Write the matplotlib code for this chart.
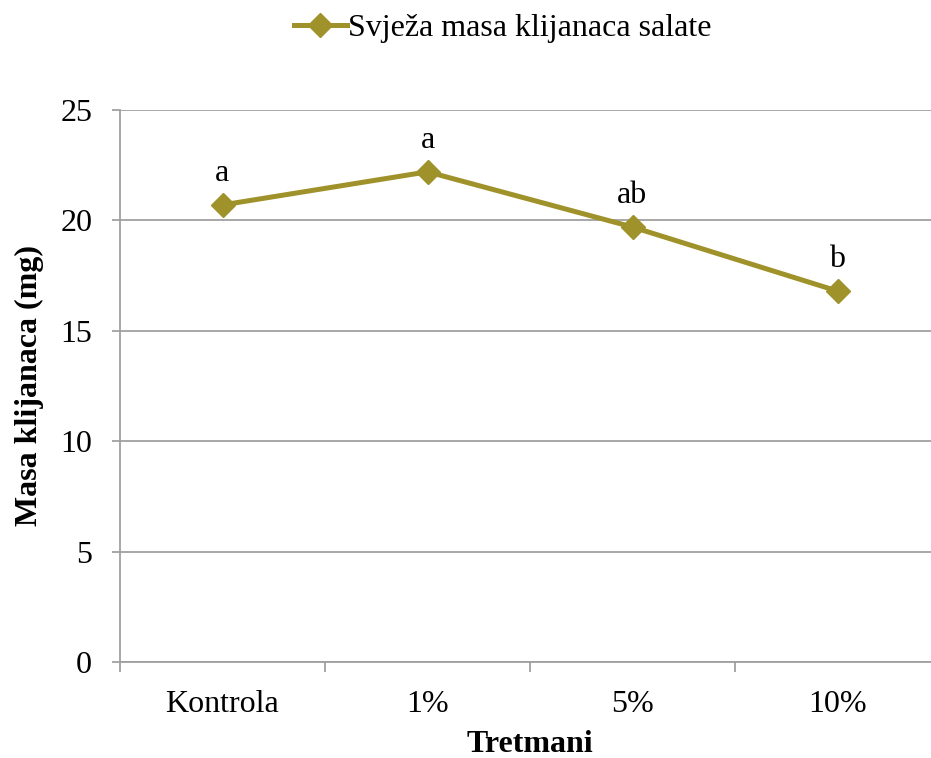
import matplotlib
matplotlib.use("Agg")
import matplotlib.pyplot as plt
from matplotlib.ticker import FixedLocator

categories = ["Kontrola", "1%", "5%", "10%"]
values = [20.7, 22.2, 19.7, 16.8]
letters = ["a", "a", "ab", "b"]
series_name = "Svježa masa klijanaca salate"
y_ticks = [0, 5, 10, 15, 20, 25]

plt.rcParams['font.family'] = ['Liberation Serif', 'DejaVu Serif']
color = "#A0922A"
grid_c = "#A0A0A0"
fs = 23

fig = plt.figure(figsize=(9.31, 7.58), dpi=100)
ax = fig.add_axes([120/931, (758-662)/758, (940-120)/931, 552/758])

x = list(range(len(categories)))
ax.plot(x, values, color=color, lw=3.6, marker="D", markersize=12, label=series_name)
for xi, v, t in zip(x, values, letters):
    ax.annotate(t, (xi, v), xytext=(0, 12), textcoords="offset points",
                ha="center", va="bottom", fontsize=fs)

ax.set_xlim(-0.5, len(categories) - 0.5)
ax.set_ylim(0, 25)
ax.set_yticks(y_ticks)
ax.set_xticks(x)
ax.set_xticklabels(categories)
ax.xaxis.set_minor_locator(FixedLocator([i - 0.5 for i in range(len(categories) + 1)]))
ax.tick_params(axis="x", which="major", length=0, labelsize=fs, pad=20)
ax.tick_params(axis="x", which="minor", length=7, color=grid_c, width=1.3)
ax.tick_params(axis="y", length=6, color=grid_c, width=1.3, labelsize=fs, pad=14)
ax.yaxis.grid(True, color=grid_c, lw=1.3)
ax.set_axisbelow(True)
for s in ["top", "right"]:
    ax.spines[s].set_visible(False)
for s in ["left", "bottom"]:
    ax.spines[s].set_color(grid_c)
    ax.spines[s].set_linewidth(1.3)

ax.set_xlabel("Tretmani", fontsize=fs, fontweight="bold", labelpad=8)
ax.set_ylabel("Masa klijanaca (mg)", fontsize=fs, fontweight="bold", labelpad=12)

fig.legend(loc="center", bbox_to_anchor=(0.54, 0.962), frameon=False, fontsize=fs,
           handlelength=1.65, handletextpad=0.05)

fig.savefig("out.png", dpi=100)
